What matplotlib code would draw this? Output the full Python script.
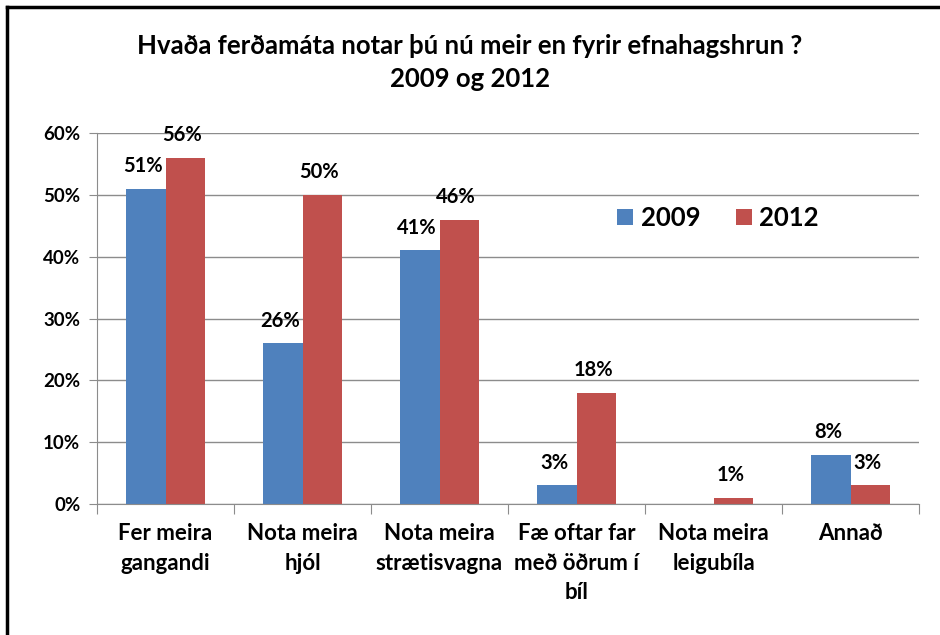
import matplotlib.pyplot as plt
import numpy as np
from matplotlib.lines import Line2D
from matplotlib.ticker import FixedLocator, NullFormatter

plt.rcParams['font.family'] = ['Lato', 'DejaVu Sans']

categories = ["Fer meira\ngangandi", "Nota meira\nhjól", "Nota meira\nstrætisvagna",
              "Fæ oftar far\nmeð öðrum í\nbíl", "Nota meira\nleigubíla", "Annað"]
v2009 = [51, 26, 41, 3, 0, 8]
v2012 = [56, 50, 46, 18, 1, 3]
labels2009 = ["51%", "26%", "41%", "3%", "", "8%"]
labels2012 = ["56%", "50%", "46%", "18%", "1%", "3%"]
yticks = [0, 10, 20, 30, 40, 50, 60]


def main():
    fig = plt.figure(figsize=(9.4, 6.35), dpi=100)
    ax = fig.add_axes([97 / 940, 1 - 504 / 635, 822 / 940, 371 / 635])

    x = np.arange(len(categories))
    w = 0.285
    b1 = ax.bar(x - w / 2, v2009, w, color='#4F81BD', label='2009')
    b2 = ax.bar(x + w / 2, v2012, w, color='#C0504D', label='2012')

    for bars, labs in ((b1, labels2009), (b2, labels2012)):
        for bar, lab in zip(bars, labs):
            if not lab:
                continue
            ax.annotate(lab, (bar.get_x() + bar.get_width() / 2, bar.get_height()),
                        xytext=(-2, 9), textcoords='offset points',
                        ha='center', va='bottom', fontsize=14.5, fontweight='bold')

    ax.set_xlim(-0.5, len(categories) - 0.5)
    ax.set_ylim(0, 60)
    ax.set_yticks(yticks)
    ax.set_yticklabels([f"{t}%" for t in yticks], fontsize=13.5, fontweight='bold')
    ax.yaxis.grid(True, color='#8c8c8c', linewidth=1)
    ax.set_axisbelow(True)

    ax.xaxis.set_major_locator(FixedLocator(np.arange(-0.5, len(categories), 1)))
    ax.xaxis.set_major_formatter(NullFormatter())
    ax.xaxis.set_minor_locator(FixedLocator(x))
    ax.set_xticklabels(categories, minor=True, fontsize=16, fontweight='bold',
                       linespacing=1.5, va='top')
    ax.tick_params(axis='x', which='minor', length=0, pad=14)
    ax.tick_params(axis='x', which='major', length=7, color='#8c8c8c')
    ax.tick_params(axis='y', length=6, color='#8c8c8c', pad=6)

    for s in ('top', 'right'):
        ax.spines[s].set_visible(False)
    for s in ('left', 'bottom'):
        ax.spines[s].set_color('#8c8c8c')

    ax.legend(loc='center left', bbox_to_anchor=(0.605, 0.77), ncol=2, frameon=False,
              prop={'size': 18.5, 'weight': 'bold'}, handlelength=0.6, handleheight=0.6,
              columnspacing=1.4, handletextpad=0.3)

    fig.text(0.5, 1 - 46 / 635, "Hvaða ferðamáta notar þú nú meir en fyrir efnahagshrun ?",
             ha='center', va='center', fontsize=18.5, fontweight='bold')
    fig.text(0.5, 1 - 79 / 635, "2009 og 2012",
             ha='center', va='center', fontsize=18.5, fontweight='bold')

    # outer frame (top and left edges only)
    fig.add_artist(Line2D([7 / 940, 7 / 940], [0, 1 - 7 / 635], color='black', linewidth=2.5,
                          transform=fig.transFigure))
    fig.add_artist(Line2D([7 / 940, 1], [1 - 7 / 635, 1 - 7 / 635], color='black', linewidth=2.5,
                          transform=fig.transFigure))

    fig.savefig('out.png', dpi=100)


if __name__ == "__main__":
    main()
